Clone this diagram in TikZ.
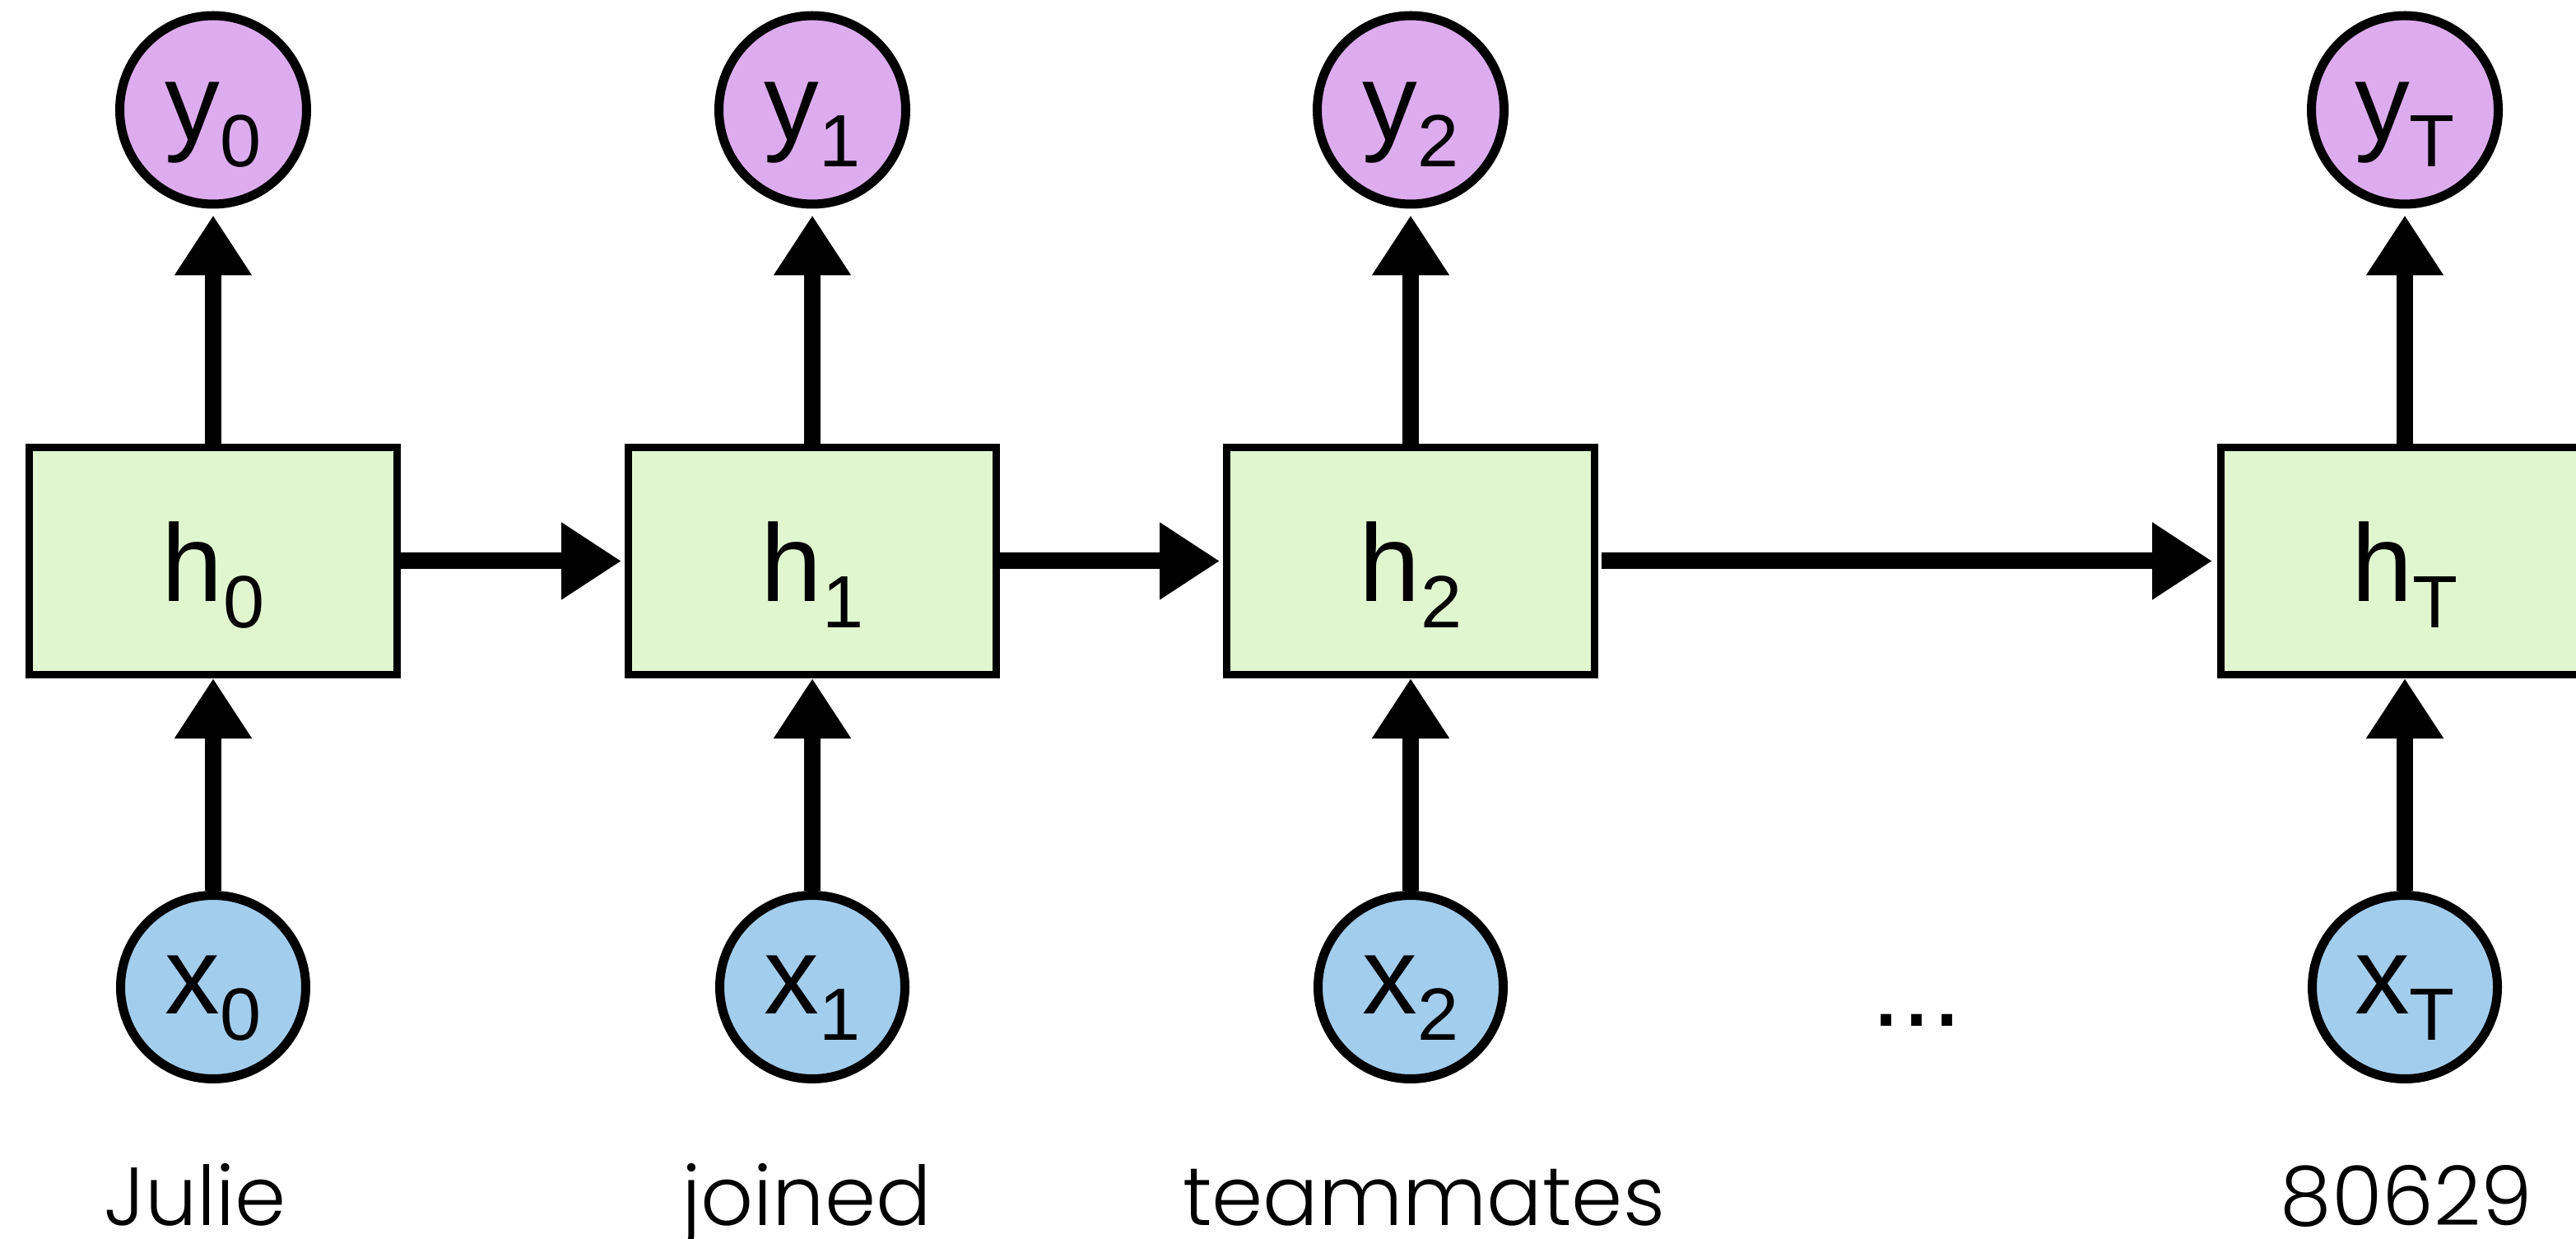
\documentclass[tikz,border=0pt]{standalone}
\usepackage{fontspec}
\setmainfont{Liberation Sans}
\newfontfamily\lblfont{Poppins Light}
\usetikzlibrary{arrows.meta,shapes.geometric}
\definecolor{ycol}{RGB}{221,172,238}
\definecolor{xcol}{RGB}{163,205,237}
\definecolor{hcol}{RGB}{224,246,207}
\newcommand\symb[2]{#1\raisebox{-0.32cm}{\fontsize{25.6}{28}\selectfont #2}}
\begin{document}
\begin{tikzpicture}[
  every node/.style={font=\fontsize{38}{40}\selectfont},
  hbox/.style={draw, line width=0.09cm, fill=hcol, minimum width=4.47cm, minimum height=2.76cm, inner sep=0pt, text height=0.98cm, text depth=0pt},
  ynode/.style={ellipse, draw, line width=0.11cm, fill=ycol, minimum width=2.27cm, minimum height=2.29cm, inner sep=0pt, text height=0.74cm, text depth=0pt},
  xnode/.style={ellipse, draw, line width=0.11cm, fill=xcol, minimum width=2.25cm, minimum height=2.23cm, inner sep=0pt, text height=0.64cm, text depth=0pt},
  word/.style={font=\lblfont\fontsize{28.45}{30}\selectfont, anchor=base, inner sep=0pt},
  conn/.style={line width=0.2cm, -{Triangle[length=0.73cm,width=0.89cm]}},
]
\useasboundingbox (0,0) rectangle (31.30,-15.05);
\clip (0,0) rectangle (31.30,-15.05);

\node[hbox] (h0) at (2.59,-6.815) {\symb{h}{0}};
\node[hbox] (h1) at (9.87,-6.815) {\symb{h}{1}};
\node[hbox] (h2) at (17.14,-6.815) {\symb{h}{2}};
\node[hbox] (hT) at (29.22,-6.815) {\symb{h}{T}};

\node[ynode] (y0) at (2.59,-1.335) {\symb{y}{0}};
\node[ynode] (y1) at (9.87,-1.335) {\symb{y}{1}};
\node[ynode] (y2) at (17.14,-1.335) {\symb{y}{2}};
\node[ynode] (yT) at (29.22,-1.335) {\symb{y}{T}};

\node[xnode] (x0) at (2.59,-11.99) {\symb{x}{0}};
\node[xnode] (x1) at (9.87,-11.99) {\symb{x}{1}};
\node[xnode] (x2) at (17.14,-11.99) {\symb{x}{2}};
\node[xnode] (xT) at (29.22,-11.99) {\symb{x}{T}};

\node[anchor=base, inner sep=0pt] (dots) at (23.29,-12.46) {...};

\node[word] (w0) at (2.37,-14.88) {Julie};
\node[word] (w1) at (9.80,-14.88) {joined};
\node[word] (w2) at (17.30,-14.88) {teammates};
\node[word] (wT) at (29.24,-14.88) {80629};

\foreach \c in {0,1,2,T}{
  \draw[conn, shorten >=0.08cm] (h\c.north) -- (y\c.south);
  \draw[conn] (x\c.north) -- (h\c.south);
}
\draw[conn, shorten >=0.04cm] (h0.east) -- (h1.west);
\draw[conn, shorten >=0.04cm] (h1.east) -- (h2.west);
\draw[conn, shorten <=0.04cm, shorten >=0.06cm] (h2.east) -- (hT.west);
\end{tikzpicture}
\end{document}
